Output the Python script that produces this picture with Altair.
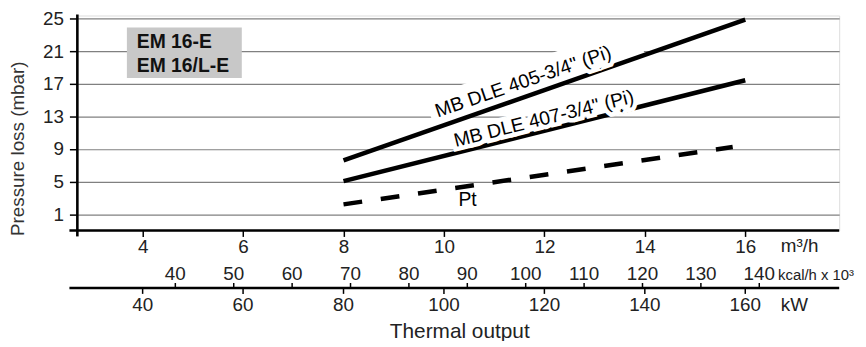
import altair as alt
import pandas as pd

# ---------------- data ----------------
flow_m3h = [8, 16]                 # m3/h
loss_dle405 = [7.6, 24.9]          # mbar, MB DLE 405-3/4" (Pi)
loss_dle407 = [5.05, 17.45]        # mbar, MB DLE 407-3/4" (Pi)
pt_flow = [8, 15.75]               # m3/h
pt_loss = [2.2, 9.25]              # mbar, Pt

y_ticks = [1, 5, 9, 13, 17, 21, 25]
m3h_ticks = [4, 6, 8, 10, 12, 14, 16]
kcal_ticks = [40, 50, 60, 70, 80, 90, 100, 110, 120, 130, 140]
kw_ticks = [40, 60, 80, 100, 120, 140, 160]

KW_PER_M3H = 10.0
KCAL_PER_M3H = 8.6

FONT = "Liberation Sans"
TICK_FS = 19
W, H = 769, 217
XDOM = [2.7, 17.87]
YDOM = [-1, 25.4]

xs = alt.Scale(domain=XDOM, nice=False, zero=False)
ys = alt.Scale(domain=YDOM, nice=False, zero=False)

solid_df = pd.DataFrame({
    "flow": flow_m3h + flow_m3h,
    "loss": loss_dle405 + loss_dle407,
    "series": ["DLE405"] * 2 + ["DLE407"] * 2,
})
pt_df = pd.DataFrame({"flow": pt_flow, "loss": pt_loss})

# annotation labels (anchor positions in data units)
labels_df = pd.DataFrame({
    "text": ['MB DLE 405-3/4" (Pi)', 'MB DLE 407-3/4" (Pi)', "Pt"],
    "flow": [11.58, 11.99, 10.47],
    "loss": [17.25, 12.7, 2.77],
    "angle": [341, 346, 0],
    "halo": [9, 9, 0],
})
# white band behind the upper label (interrupts the grid)
band_df = pd.DataFrame({"flow": [9.72, 13.90], "loss": [13.33, 22.42]})

kcal_df = pd.DataFrame({"kcal": kcal_ticks})
kcal_df["m3h"] = kcal_df["kcal"] / KCAL_PER_M3H
kw_df = pd.DataFrame({"kw": kw_ticks})
kw_df["m3h"] = kw_df["kw"] / KW_PER_M3H

X_AXIS = alt.Axis(values=m3h_ticks, domain=False, grid=False, tickSize=6,
                  tickWidth=1.5, tickColor="black", labelFontSize=TICK_FS,
                  labelFont=FONT, labelColor="#222", labelPadding=1,
                  title=None)
Y_AXIS = alt.Axis(values=y_ticks, domain=False, grid=True, gridColor="#808080",
                  gridWidth=1.2, tickSize=8, tickWidth=1.5, tickColor="black",
                  labelFontSize=TICK_FS, labelFont=FONT, labelColor="#222",
                  labelPadding=6, title="Pressure loss (mbar)",
                  titleFont=FONT, titleFontSize=19, titleFontWeight="normal",
                  titleColor="#333", titleX=-60, titleY=134,
                  titleBaseline="middle")


def X(f):
    return alt.X(f, type="quantitative", scale=xs, axis=X_AXIS)


def Y(f):
    return alt.Y(f, type="quantitative", scale=ys, axis=Y_AXIS)


band = alt.Chart(band_df).mark_line(color="white", strokeWidth=34, strokeCap="butt").encode(
    x=X("flow"), y=Y("loss"))

solid = alt.Chart(solid_df).mark_line(color="black", strokeWidth=4.5, strokeCap="butt").encode(
    x=X("flow"), y=Y("loss"), detail="series:N")

dashed = alt.Chart(pt_df).mark_line(color="black", strokeWidth=4.5, strokeCap="butt",
                                     strokeDash=[19, 19]).encode(
    x=X("flow"), y=Y("loss"))

halo = alt.Chart(labels_df).mark_text(font=FONT, fontSize=19.5, color="white", stroke="white",
                                       align="center", baseline="middle").encode(
    x=X("flow"), y=Y("loss"), text="text:N", angle=alt.Angle("angle:Q", scale=None),
    strokeWidth=alt.StrokeWidth("halo:Q", scale=None))

labels = alt.Chart(labels_df).mark_text(font=FONT, fontSize=19.5, color="black",
                                         align="center", baseline="middle").encode(
    x=X("flow"), y=Y("loss"), text="text:N", angle=alt.Angle("angle:Q", scale=None))

# grey box with model names
box = alt.Chart(pd.DataFrame({"a": [0]})).mark_rect(color="#c8c8c8").encode(
    x=alt.value(50), x2=alt.value(166), y=alt.value(12), y2=alt.value(63))
box_text = alt.Chart(pd.DataFrame({"t": ["EM 16-E", "EM 16/L-E"], "py": [27, 51]})).mark_text(
    font=FONT, fontSize=19.5, fontWeight="bold", color="#111", align="left", baseline="middle").encode(
    x=alt.value(60), y=alt.Y("py:Q", scale=None), text="t:N")

# axis lines
axis_lines = alt.Chart(pd.DataFrame({"a": [0]}))
y_line = axis_lines.mark_rule(color="black", strokeWidth=2.6).encode(
    x=alt.value(0), y=alt.value(-1), y2=alt.value(223))
x_line = axis_lines.mark_rule(color="black", strokeWidth=2.6).encode(
    x=alt.value(-8), x2=alt.value(W), y=alt.value(H))
x2_line = axis_lines.mark_rule(color="black", strokeWidth=2.6).encode(
    x=alt.value(-8), x2=alt.value(W), y=alt.value(275))

kcal_tick = alt.Chart(kcal_df).mark_rule(color="black", strokeWidth=1.5).encode(
    x=X("m3h"), y=alt.value(270), y2=alt.value(275))
kcal_lab = alt.Chart(kcal_df).mark_text(font=FONT, fontSize=TICK_FS, color="#222",
                                         baseline="middle").encode(
    x=X("m3h"), y=alt.value(261), text="kcal:Q")
kw_tick = alt.Chart(kw_df).mark_rule(color="black", strokeWidth=1.5).encode(
    x=X("m3h"), y=alt.value(275), y2=alt.value(281))
kw_lab = alt.Chart(kw_df).mark_text(font=FONT, fontSize=TICK_FS, color="#222",
                                     baseline="middle").encode(
    x=X("m3h"), y=alt.value(292), text="kw:Q")

units = alt.Chart(pd.DataFrame({
    "t": ["m³/h", "kW"],
    "py": [233, 292],
})).mark_text(font=FONT, fontSize=19, color="#222", align="left", baseline="middle").encode(
    x=alt.value(710), y=alt.Y("py:Q", scale=None), text="t:N")

kcal_unit = alt.Chart(pd.DataFrame({"t": ["kcal/h x 10³"]})).mark_text(
    font=FONT, fontSize=15, color="#222", align="right", baseline="middle").encode(
    x=alt.value(784), y=alt.value(262), text="t:N")

title = alt.Chart(pd.DataFrame({"t": ["Thermal output"]})).mark_text(
    font=FONT, fontSize=21, color="#222", align="center", baseline="middle").encode(
    x=alt.value(386), y=alt.value(320), text="t:N")

chart = alt.layer(
    band, box, box_text, solid, dashed, halo, labels,
    y_line, x_line, x2_line, kcal_tick, kcal_lab, kw_tick, kw_lab, units, kcal_unit, title,
).properties(
    width=W, height=H,
    autosize=alt.AutoSizeParams(type="none"),
    padding={"left": 70, "top": 6, "right": 19, "bottom": 110},
).configure_view(stroke=None).configure(background="white")

chart.save("out.html", embed_options={"renderer": "svg", "actions": False})
